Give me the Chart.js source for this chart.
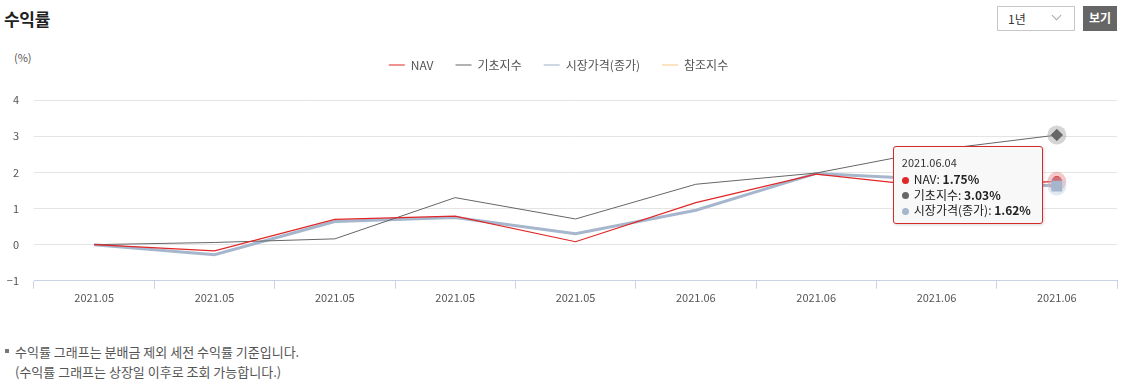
<!DOCTYPE html>
<html>
<head>
<meta charset="utf-8">
<script src="https://cdn.jsdelivr.net/npm/chart.js@4"></script>
<style>
  html, body { margin:0; padding:0; background:#fff; }
  body { width:1130px; height:386px; position:relative; overflow:hidden; font-family:"Noto Sans CJK KR","Noto Sans",sans-serif; color:#333; }
  #title { position:absolute; left:4px; top:6px; font-size:17px; font-weight:bold; color:#222; letter-spacing:-0.3px; }
  #sel { position:absolute; left:997px; top:6px; width:76px; height:23px; border:1px solid #c8c8c8; box-sizing:content-box; }
  #sel span { position:absolute; left:10px; top:3px; font-size:12px; color:#333; }
  #sel i { position:absolute; left:55px; top:5px; width:6px; height:6px; border-right:1px solid #aaa; border-bottom:1px solid #aaa; transform:rotate(45deg); }
  #btn { position:absolute; left:1083px; top:6px; width:34px; height:25px; background:#666; color:#fff; font-size:12px; font-weight:bold; text-align:center; line-height:24px; }
  #unit { position:absolute; left:14px; top:49px; font-size:11px; color:#555; }
  #wrap { position:absolute; left:0; top:37px; width:1130px; height:269px; }
  #notes { position:absolute; left:5px; top:342px; font-size:13px; color:#555; line-height:20px; }
  #notes .b { display:inline-block; width:4px; height:4px; background:#777; vertical-align:middle; margin-right:6px; position:relative; top:-2px; }
  #notes .l2 { padding-left:10px; }
  #tip { position:absolute; display:none; background:#f8f8f8; border:1px solid #d52a2a; border-radius:3px; box-shadow:1px 1px 3px rgba(0,0,0,0.15); padding:7px 11px 5px 8px; font-size:12px; color:#222; white-space:nowrap; }
  #tip .t { font-size:11px; color:#333; line-height:16px; margin-bottom:1px; }
  #tip .r { line-height:15.5px; }
  #tip .d { display:inline-block; width:7px; height:7px; border-radius:50%; margin-right:5px; vertical-align:middle; position:relative; top:-1px; }
  #tip b { font-weight:bold; }
</style>
</head>
<body>
<div id="title">수익률</div>
<div id="sel"><span>1년</span><i></i></div>
<div id="btn">보기</div>
<div id="unit">(%)</div>
<div id="wrap"><canvas id="c"></canvas></div>
<div id="tip"></div>
<div id="notes">
  <div><span class="b"></span>수익률 그래프는 분배금 제외 세전 수익률 기준입니다.</div>
  <div class="l2">(수익률 그래프는 상장일 이후로 조회 가능합니다.)</div>
</div>
<script>
// ---- data ----
const dates = ['2021.05.25','2021.05.26','2021.05.27','2021.05.28','2021.05.31','2021.06.01','2021.06.02','2021.06.03','2021.06.04'];
const seriesNames = ['NAV','기초지수','시장가격(종가)','참조지수'];
const navValues    = [0, -0.17, 0.70, 0.79, 0.08, 1.16, 1.95, 1.59, 1.75];
const baseValues   = [0,  0.06, 0.16, 1.30, 0.71, 1.67, 1.98, 2.62, 3.03];
const marketValues = [0, -0.28, 0.64, 0.75, 0.30, 0.95, 1.97, 1.80, 1.62];
const refValues    = [];
const yTicks = [-1, 0, 1, 2, 3, 4];

// ---- styles ----
const colors = ['#e02626', '#666666', '#a5b6cd', '#f7c98a'];
const legendColors = ['rgba(224,38,38,0.5)', 'rgba(102,102,102,0.5)', 'rgba(165,182,205,0.55)', 'rgba(247,201,138,0.5)'];
const haloColors = ['rgba(224,60,60,0.28)', 'rgba(160,160,160,0.45)', 'rgba(190,205,225,0.45)', 'rgba(0,0,0,0)'];
const FONT = '"Noto Sans CJK KR","Noto Sans",sans-serif';

const legendGap = {
  id: 'legendGap',
  beforeLayout(chart) {
    const lg = chart.legend;
    if (lg && !lg._gapWrapped) {
      const fit = lg.fit;
      lg.fit = function () { fit.call(this); this.height += 19; };
      lg._gapWrapped = true;
    }
  }
};

const haloPlugin = {
  id: 'halo',
  afterDatasetsDraw(chart) {
    const ctx = chart.ctx;
    const act = chart.getActiveElements();
    const drawOrder = [1, 0, 2, 3];
    drawOrder.forEach(di => {
      act.filter(a => a.datasetIndex === di).forEach(a => {
        const el = a.element;
        ctx.save();
        ctx.beginPath();
        ctx.arc(el.x, el.y, 9.5, 0, Math.PI * 2);
        ctx.fillStyle = haloColors[di];
        ctx.fill();
        ctx.restore();
        el.draw(ctx, chart.chartArea);
      });
    });
  }
};

function externalTip(context) {
  const tip = document.getElementById('tip');
  const t = context.tooltip;
  if (!t || t.opacity === 0 || !t.dataPoints || !t.dataPoints.length) { tip.style.display = 'none'; return; }
  let html = '<div class="t">' + dates[t.dataPoints[0].dataIndex] + '</div>';
  t.dataPoints.forEach(dp => {
    html += '<div class="r"><span class="d" style="background:' + colors[dp.datasetIndex] + '"></span>' +
      dp.dataset.label + ': <b>' + dp.parsed.y.toFixed(2) + '%</b></div>';
  });
  tip.innerHTML = html;
  tip.style.display = 'block';
  const wrap = document.getElementById('wrap');
  const w = tip.offsetWidth;
  tip.style.left = (wrap.offsetLeft + t.caretX - 14 - w) + 'px';
  tip.style.top = (wrap.offsetTop + t.caretY - 21) + 'px';
}

const pointStyles = ['circle', 'rectRot', 'rect', 'circle'];
const hoverRadius = [5, 6, 7.5, 4];
const widths = [1.2, 1, 3, 1.5];
const seriesValues = [navValues, baseValues, marketValues, refValues];

const chart = new Chart(document.getElementById('c'), {
  type: 'line',
  data: {
    labels: dates,
    datasets: seriesNames.map((n, i) => ({
      label: n,
      data: seriesValues[i],
      borderColor: colors[i],
      backgroundColor: colors[i],
      borderWidth: widths[i],
      tension: 0,
      pointRadius: 0,
      pointStyle: pointStyles[i],
      pointHoverRadius: hoverRadius[i],
      pointHoverBorderWidth: 0,
      pointHoverBackgroundColor: colors[i],
      pointHitRadius: 5
    }))
  },
  options: {
    responsive: true,
    maintainAspectRatio: false,
    animation: false,
    interaction: { mode: 'index', intersect: false },
    layout: { padding: { left: 0, right: 13, top: 0, bottom: 0 } },
    plugins: {
      legend: {
        position: 'top',
        align: 'center',
        labels: {
          usePointStyle: true,
          pointStyle: 'line',
          pointStyleWidth: 16,
          boxHeight: 12,
          padding: 22,
          color: '#555',
          font: { family: FONT, size: 12 },
          generateLabels: (ch) => ch.data.datasets.map((d, i) => ({
            text: d.label,
            fillStyle: legendColors[i],
            strokeStyle: legendColors[i],
            lineWidth: 2,
            pointStyle: 'line',
            hidden: false,
            datasetIndex: i,
            fontColor: '#555'
          }))
        }
      },
      tooltip: { enabled: false, external: externalTip, position: 'average' }
    },
    scales: {
      x: {
        offset: true,
        grid: { display: true, drawOnChartArea: false, drawTicks: true, tickLength: 8, color: '#c9d3e3', offset: true },
        border: { display: true, color: '#c9d3e3' },
        ticks: {
          padding: 2,
          color: '#555',
          font: { family: FONT, size: 11 },
          maxRotation: 0,
          autoSkip: false,
          callback: function (v) { return this.getLabelForValue(v).slice(0, 7); }
        }
      },
      y: {
        min: yTicks[0],
        max: yTicks[yTicks.length - 1],
        afterBuildTicks: (s) => { s.ticks = yTicks.map(v => ({ value: v })); },
        afterFit: (s) => { s.width = 34; },
        grid: { color: '#e4e4e4', drawTicks: false, lineWidth: 1 },
        border: { display: false },
        ticks: {
          padding: 15,
          color: '#555',
          font: { family: FONT, size: 11 },
          callback: (v) => (v < 0 ? '\u2212' + Math.abs(v) : String(v))
        }
      }
    }
  },
  plugins: [legendGap, haloPlugin]
});

const last = dates.length - 1;
const activeEls = [0, 1, 2].map(i => ({ datasetIndex: i, index: last }));
chart.setActiveElements(activeEls);
chart.tooltip.setActiveElements(activeEls, { x: 0, y: 0 });
chart.update();
</script>
</body>
</html>
